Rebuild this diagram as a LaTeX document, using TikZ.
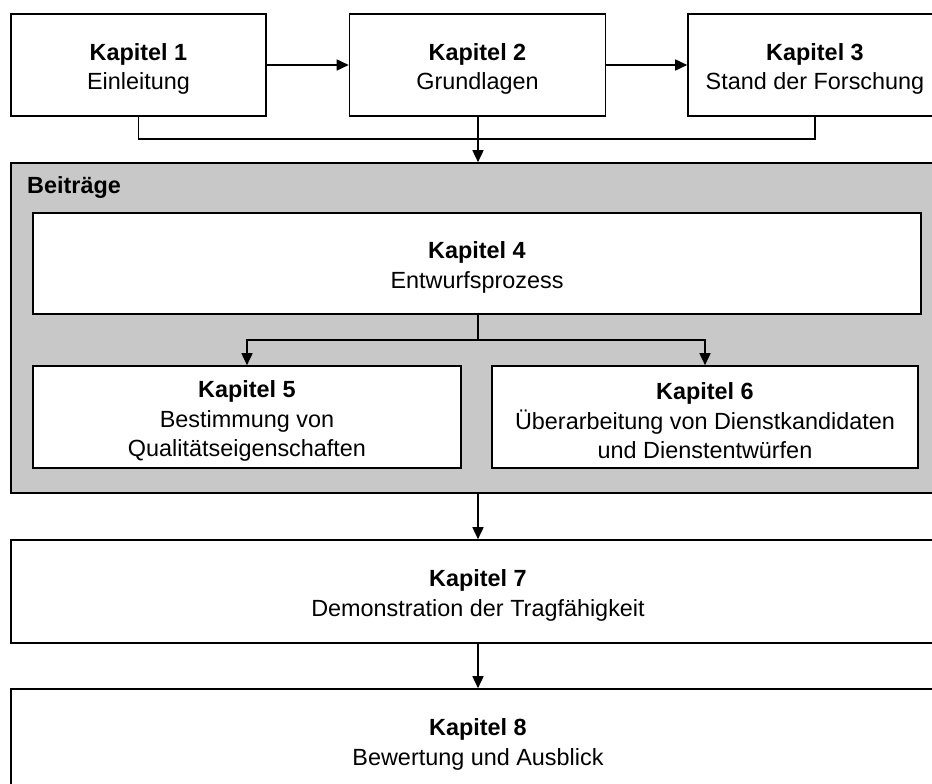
\documentclass[tikz,border=0pt]{standalone}
\usepackage{fontspec}
\setmainfont{Liberation Sans}
\usetikzlibrary{arrows.meta}
\definecolor{beitraggrey}{RGB}{200,200,200}
\newcommand\kaptitle[1]{\rule{0pt}{25pt}\textbf{#1}}
\begin{document}
\begin{tikzpicture}[x=1pt,y=-1pt,
  chapbox/.style={draw=black,line width=1.6pt,fill=white,rectangle,align=center,inner sep=0pt,
    font=\fontsize{23.4}{29.5}\selectfont},
  conn/.style={line width=1.6pt},
  arr/.style={line width=1.6pt,-{Triangle[length=12pt,width=11pt]}}]
\useasboundingbox (0,0) rectangle (932,784);
\clip (0,0) rectangle (932,784);
\fill[white] (0,0) rectangle (932,784);
% top row
\node[chapbox,minimum width=255pt,minimum height=102pt] (k1) at (138.5,65) {\kaptitle{Kapitel 1}\\Einleitung};
\node[chapbox,minimum width=256pt,minimum height=102pt] (k2) at (477.5,65) {\kaptitle{Kapitel 2}\\Grundlagen};
\node[chapbox,minimum width=254pt,minimum height=102pt] (k3) at (815,65) {\kaptitle{Kapitel 3}\\Stand der Forschung};
% grey contributions area
\node[draw=black,line width=1.6pt,fill=beitraggrey,rectangle,inner sep=0pt,minimum width=934pt,minimum height=330pt] (grey) at (478,328) {};
\node[anchor=base west,inner sep=0pt,font=\fontsize{23.4}{29.5}\selectfont\bfseries] (beitr) at (27,193) {Beiträge};
\node[chapbox,minimum width=888pt,minimum height=101pt] (k4) at (477,263.5) {\kaptitle{Kapitel 4}\\Entwurfsprozess};
\node[chapbox,minimum width=428pt,minimum height=102pt] (k5) at (247,417) {\kaptitle{Kapitel 5}\\Bestimmung von\\Qualitätseigenschaften};
\node[chapbox,minimum width=426pt,minimum height=102pt] (k6) at (705,417) {\kaptitle{Kapitel 6}\\Überarbeitung von Dienstkandidaten\\und Dienstentwürfen};
% lower boxes
\node[chapbox,minimum width=934pt,minimum height=103pt] (k7) at (478,591.5) {\kaptitle{Kapitel 7}\\Demonstration der Tragfähigkeit};
\node[chapbox,minimum width=934pt,minimum height=103pt] (k8) at (478,740.5) {\kaptitle{Kapitel 8}\\Bewertung und Ausblick};
% coordinates for buses
\coordinate (bus1) at (478,139);
\coordinate (bus2) at (478,340);
% connectors
\draw[arr] (k1.east) -- (k2.west);
\draw[arr] (k2.east) -- (k3.west);
\draw[conn] (k1.south) |- (bus1) -| (k3.south);
\draw[arr] (k2.south -| bus1) -- (grey.north -| bus1);
\draw[conn] (k4.south -| bus2) -- (bus2);
\draw[arr] (bus2) -| (k5.north);
\draw[arr] (bus2) -| (k6.north);
\draw[arr] (grey.south -| bus2) -- (k7.north -| bus2);
\draw[arr] (k7.south -| bus2) -- (k8.north -| bus2);
\end{tikzpicture}
\end{document}
